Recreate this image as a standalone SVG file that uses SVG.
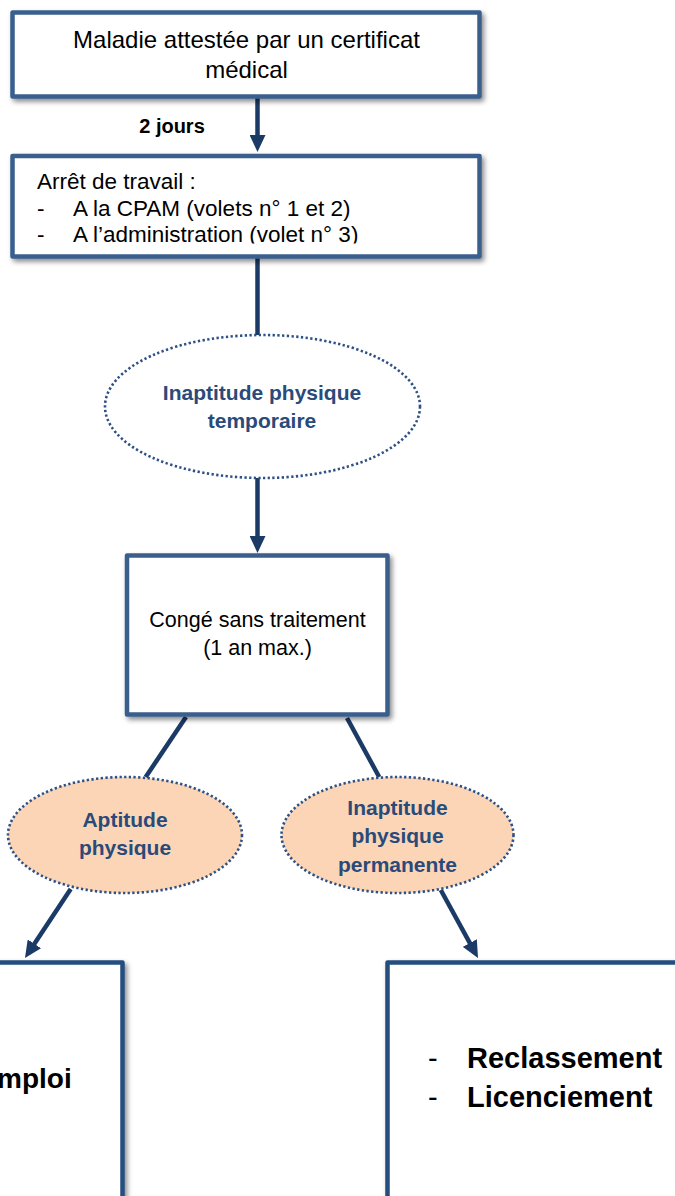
<svg xmlns="http://www.w3.org/2000/svg" width="675" height="1196" viewBox="0 0 675 1196">
<style>
.box{fill:#fff;stroke:#3A5F8D;stroke-width:4.5;stroke-linejoin:round;filter:url(#sh)}
.box2{fill:#fff;stroke:#254E80;stroke-width:4.5;stroke-linejoin:round;filter:url(#sh)}
.conn{stroke:#1B3A66;stroke-width:4.5;fill:none}
.ell{fill:#fff;stroke:#2D5185;stroke-width:2.6;stroke-dasharray:2.3 2.4}
.ellp{fill:#FBD5B5;stroke:#2D5185;stroke-width:2.6;stroke-dasharray:2.3 2.4}
.t{font-family:"Liberation Sans",Arial,sans-serif;fill:#000}
.et{font-family:"Liberation Sans",Arial,sans-serif;font-weight:bold;fill:#2A4A7A;font-size:21px;text-anchor:middle}
</style>
<defs>
<filter id="sh" x="-10%" y="-10%" width="125%" height="130%">
<feDropShadow dx="2.5" dy="3" stdDeviation="2.5" flood-color="#000" flood-opacity="0.45"/>
</filter>
<marker id="ah" viewBox="0 0 17 16" refX="11" refY="8" markerWidth="17" markerHeight="16" markerUnits="userSpaceOnUse" orient="auto">
<path d="M0,0 L17,8 L0,16 z" fill="#1B3A66"/>
</marker>
<clipPath id="c2"><rect x="14" y="158" width="464" height="85.5"/></clipPath>
</defs>
<g id="connectors">
<line class="conn" x1="257.5" y1="97" x2="257.5" y2="146" marker-end="url(#ah)"/>
<line class="conn" x1="257.5" y1="257" x2="257.5" y2="336"/>
<line class="conn" x1="257.5" y1="478" x2="257.5" y2="547" marker-end="url(#ah)"/>
<line class="conn" x1="186" y1="717" x2="145.7" y2="777"/>
<line class="conn" x1="70.7" y1="889" x2="28.3" y2="953" marker-end="url(#ah)"/>
<line class="conn" x1="347" y1="718" x2="379.2" y2="777"/>
<line class="conn" x1="440.8" y1="890" x2="475.1" y2="952.7" marker-end="url(#ah)"/>
</g>
<g id="n1">
<rect class="box" x="12.5" y="12.5" width="467" height="84"/>
<text class="t" font-size="24" text-anchor="middle" x="246.5" y="48">Maladie attestée par un certificat</text>
<text class="t" font-size="24" text-anchor="middle" x="246.5" y="78">médical</text>
</g>
<g id="lbl">
<text class="t" font-size="20" font-weight="bold" text-anchor="middle" x="172" y="133">2 jours</text>
</g>
<g id="n2">
<rect class="box" x="12.5" y="156" width="467" height="100.5"/>
<g clip-path="url(#c2)">
<text class="t" font-size="22.5" x="37" y="189">Arrêt de travail :</text>
<text class="t" font-size="22.5" x="37" y="215.5">-</text>
<text class="t" font-size="22.5" x="73" y="215.5">A la CPAM (volets n° 1 et 2)</text>
<text class="t" font-size="22.5" x="37" y="242">-</text>
<text class="t" font-size="22.5" x="73" y="242">A l’administration (volet n° 3)</text>
</g>
</g>
<g id="e1">
<ellipse class="ell" cx="262.5" cy="406.5" rx="157.5" ry="71.5"/>
<text class="et" x="262" y="400">Inaptitude physique</text>
<text class="et" x="262" y="428">temporaire</text>
</g>
<g id="n3">
<rect class="box" x="127" y="555.5" width="260.5" height="159"/>
<text class="t" font-size="21.5" text-anchor="middle" x="257.5" y="627">Congé sans traitement</text>
<text class="t" font-size="21.5" text-anchor="middle" x="257.5" y="655">(1 an max.)</text>
</g>
<g id="e2">
<ellipse class="ellp" cx="125" cy="835" rx="117" ry="58"/>
<text class="et" x="125" y="827">Aptitude</text>
<text class="et" x="125" y="855">physique</text>
</g>
<g id="e3">
<ellipse class="ellp" cx="397.5" cy="835" rx="116" ry="58"/>
<text class="et" x="397.5" y="815">Inaptitude</text>
<text class="et" x="397.5" y="843">physique</text>
<text class="et" x="397.5" y="872">permanente</text>
</g>
<g id="n4">
<rect class="box2" x="-300" y="962.5" width="422.5" height="320"/>
<text class="t" font-size="28" font-weight="bold" x="-3" y="1088">mploi</text>
</g>
<g id="n5">
<rect class="box2" x="387.5" y="962.5" width="400" height="320"/>
<text class="t" font-size="29" x="428" y="1068">-</text>
<text class="t" font-size="29" font-weight="bold" x="467" y="1068">Reclassement</text>
<text class="t" font-size="29" x="428" y="1107">-</text>
<text class="t" font-size="29" font-weight="bold" x="467" y="1107">Licenciement</text>
</g>
</svg>
